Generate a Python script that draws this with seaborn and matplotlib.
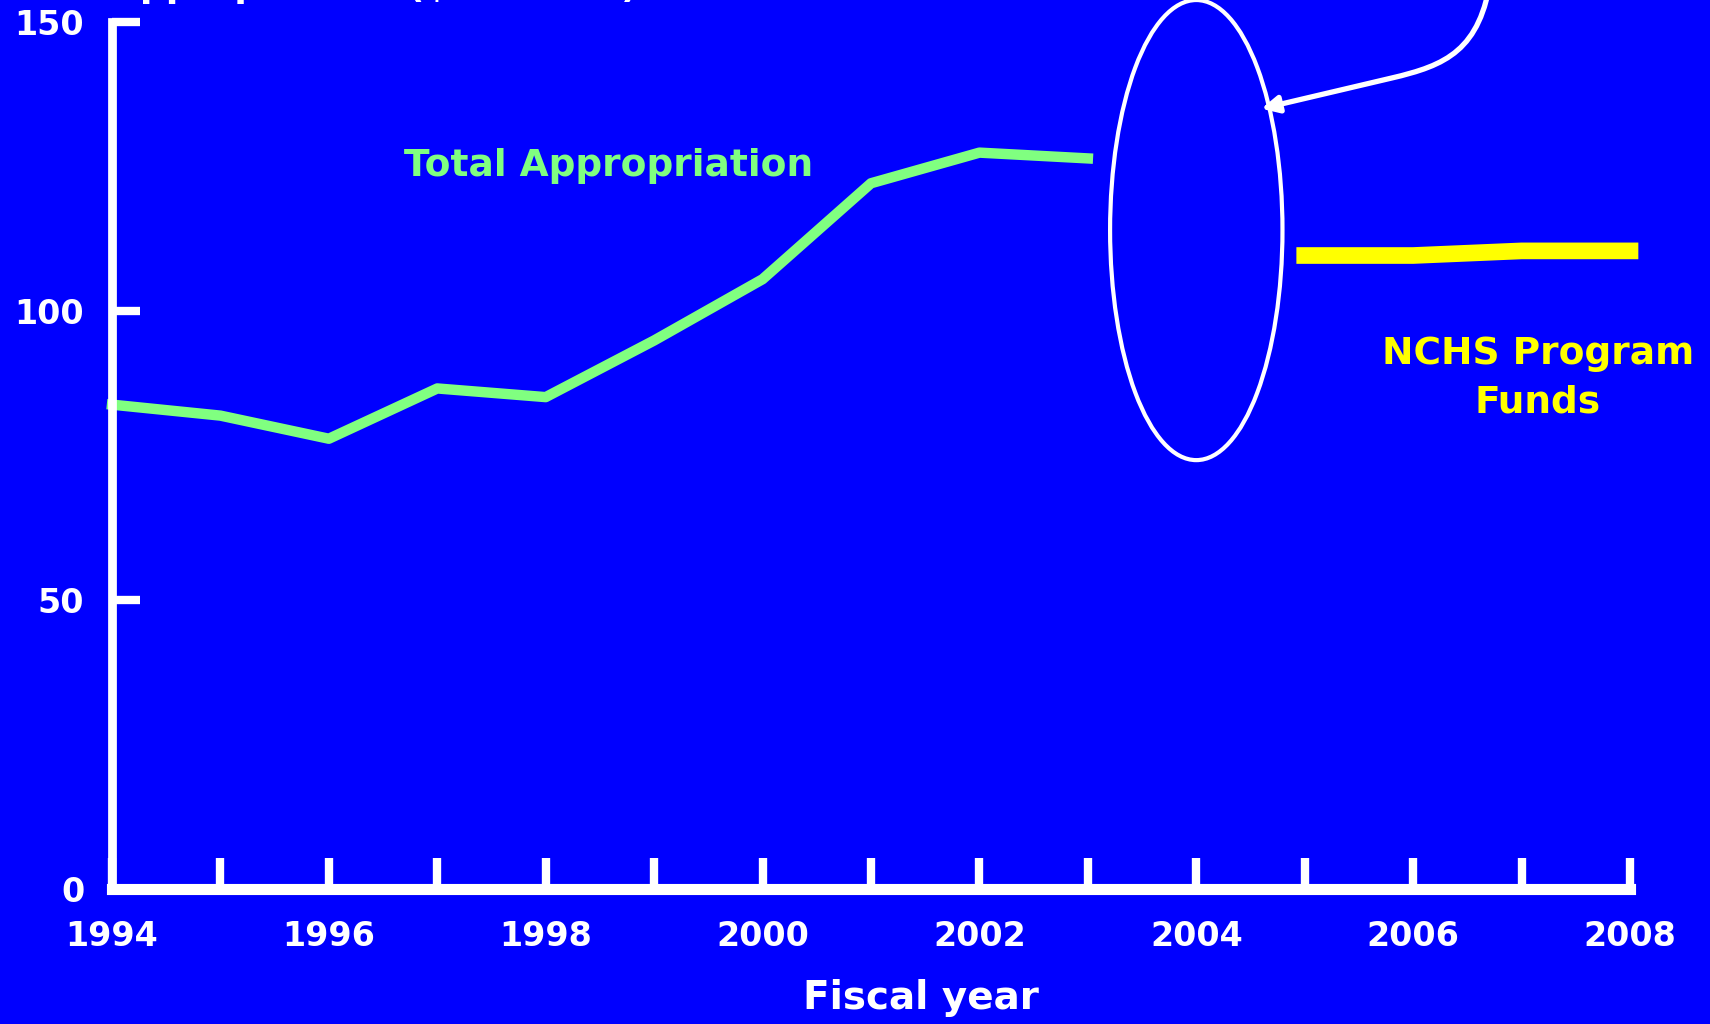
import numpy as np
import pandas as pd
import seaborn as sns
import matplotlib
matplotlib.use("Agg")
import matplotlib.pyplot as plt
from matplotlib.patches import Ellipse, FancyArrowPatch
from matplotlib.path import Path

# ---- data ----
total_years = [1994, 1995, 1996, 1997, 1998, 1999, 2000, 2001, 2002, 2003]
total_values = [83.8, 81.9, 77.9, 86.6, 85.1, 94.9, 105.5, 122.1, 127.4, 126.4]
program_years = [2005, 2006, 2007, 2008]
program_values = [109.6, 109.6, 110.4, 110.4]
y_ticks = [0, 50, 100, 150]
x_ticks = list(range(1994, 2009))
x_tick_labels = [str(y) if y % 2 == 0 else "" for y in x_ticks]

BLUE = "#0000FF"
GREEN = "#80FF80"
YELLOW = "#FFFF00"
WHITE = "#FFFFFF"

sns.set_style("ticks")
plt.rcParams["font.family"] = ["DejaVu Sans"]
plt.rcParams["font.weight"] = "bold"

fig = plt.figure(figsize=(17.1, 10.24), dpi=100, facecolor=BLUE)
ax = fig.add_axes([112 / 1710, 1 - 889 / 1024, (1630 - 112) / 1710, (889 - 22) / 1024])
ax.set_facecolor(BLUE)

df_total = pd.DataFrame({"year": total_years, "value": total_values})
df_prog = pd.DataFrame({"year": program_years, "value": program_values})

sns.lineplot(data=df_total, x="year", y="value", ax=ax, color=GREEN, lw=7.5,
             solid_capstyle="projecting", clip_on=False)
sns.lineplot(data=df_prog, x="year", y="value", ax=ax, color=YELLOW, lw=12,
             solid_capstyle="projecting", clip_on=False)

ax.set_xlim(1994, 2008)
ax.set_ylim(0, 150)
ax.set_xticks(x_ticks)
ax.set_xticklabels(x_tick_labels)
ax.set_yticks(y_ticks)
ax.set_yticklabels([str(v) for v in y_ticks])

for s in ["top", "right"]:
    ax.spines[s].set_visible(False)
ax.spines["left"].set_color(WHITE)
ax.spines["left"].set_linewidth(6.3)
ax.spines["bottom"].set_color(WHITE)
ax.spines["bottom"].set_linewidth(8)
ax.spines["left"].set_capstyle("projecting")
ax.spines["bottom"].set_capstyle("projecting")

ax.tick_params(axis="x", which="major", bottom=True, top=False, direction="in",
               length=22, width=6, color=WHITE, labelcolor=WHITE, labelsize=24, pad=22)
ax.tick_params(axis="y", which="major", left=True, right=False, direction="in",
               length=20, width=6, color=WHITE, labelcolor=WHITE, labelsize=24, pad=20)
for lab in ax.get_xticklabels() + ax.get_yticklabels():
    lab.set_fontweight("bold")

ax.set_xlabel("Fiscal year", color=WHITE, fontsize=28, fontweight="bold", va="center")
ax.xaxis.set_label_coords((921 - 112) / 1518, (889 - 998) / 867)
ax.set_ylabel("")

# partially visible title at top (cut off in the original)
fig.text(112 / 1710, 1 + 2.5 / 1024, "Appropriation ($ millions)", color=WHITE,
         fontsize=26, fontweight="bold", ha="left", va="baseline")

ax.text(1998.58, 125.0, "Total Appropriation", color=GREEN, fontsize=27,
        fontweight="bold", ha="center", va="center")
ax.text(2007.15, 88.3, "NCHS Program\nFunds", color=YELLOW, fontsize=27,
        fontweight="bold", ha="center", va="center", multialignment="center",
        linespacing=1.45)

ell = Ellipse((2004.0, 114.0), width=1.59, height=79.6, fill=False,
              edgecolor=WHITE, lw=3, clip_on=False)
ax.add_patch(ell)

verts = [(2006.72, 158), (2006.62, 145), (2006.3, 142.5), (2005.8, 140.3),
         (2004.6, 135.0)]
codes = [Path.MOVETO, Path.CURVE4, Path.CURVE4, Path.CURVE4, Path.LINETO]
arrow = FancyArrowPatch(path=Path(verts, codes), arrowstyle="-|>,head_length=0.5,head_width=0.25",
                        mutation_scale=20, color=WHITE, lw=3.8, clip_on=False,
                        transform=ax.transData)
ax.add_patch(arrow)

fig.savefig("out.png", dpi=100, facecolor=BLUE)
